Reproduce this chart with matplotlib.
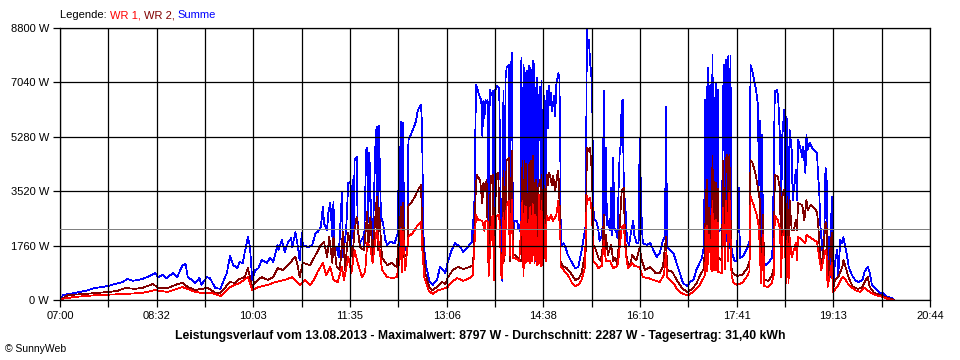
import matplotlib.pyplot as plt

# Minutes after 07:00 and power in W
summe = [
    (1, 65), (3, 160), (14, 230), (27, 320), (33, 390), (40, 420), (45, 450), (59, 580), (64, 680),
    (69, 620), (78, 680), (87, 810), (90, 870), (93, 740), (97, 810), (101, 710), (107, 870), (111, 740),
    (116, 1130), (119, 1160), (121, 740), (125, 650), (128, 550), (132, 710), (134, 490), (139, 740),
    (142, 710), (147, 390), (152, 360), (154, 550), (158, 870), (161, 1420), (164, 1130), (168, 1030),
    (170, 1230), (173, 1200), (175, 1550), (178, 2040), (180, 1710), (182, 650), (185, 970), (188, 1030),
    (191, 1290), (196, 1200), (199, 1360), (202, 1230), (206, 1780), (207, 1620), (210, 1940), (213, 1550),
    (216, 1880), (219, 2000), (220, 1710), (223, 2200), (225, 1780), (227, 1290), (229, 2170), (230, 1780),
    (235, 1710), (239, 1780), (242, 2170), (244, 2200), (247, 2360), (249, 3010), (250, 2490), (253, 2260),
    (254, 2810), (256, 3140), (258, 2040), (259, 3170), (260, 1620), (262, 1710), (264, 1390), (267, 3460),
    (268, 1390), (271, 2260), (273, 3790), (275, 3820), (276, 1520), (277, 3880), (278, 1710), (279, 4530),
    (281, 4630), (282, 2260), (284, 1840), (287, 2040), (288, 1780), (290, 4850), (291, 4920), (292, 2520),
    (293, 4760), (295, 2260), (295, 1390), (296, 1620), (299, 5340), (300, 5600), (301, 1620), (302, 5630),
    (304, 2680), (306, 2490), (308, 1940), (310, 1780), (313, 1880), (317, 1840), (320, 2170), (321, 4950),
    (322, 1460), (323, 5760), (324, 1620), (325, 5730), (326, 1520), (327, 1710), (329, 1520), (330, 5180),
    (331, 5240), (334, 5500), (337, 5760), (339, 6150), (342, 6310), (343, 5500), (344, 2260), (345, 1620),
    (347, 1070), (350, 580), (353, 490), (357, 650), (360, 1070), (363, 970), (365, 870), (367, 1200),
    (371, 1620), (374, 1840), (379, 1720), (382, 1550), (386, 1700), (390, 1880), (391, 2590), (392, 2000),
    (394, 6960), (395, 6860), (397, 6630), (399, 6470), (400, 5310), (401, 6440), (402, 5890), (403, 6470),
    (404, 6370), (405, 6470), (406, 1360), (407, 6790), (409, 6630), (410, 6760), (411, 810), (412, 6790),
    (414, 6920), (416, 6860), (418, 1460), (419, 620), (420, 6760), (421, 1780), (422, 7180), (423, 7510),
    (425, 7600), (426, 1360), (427, 7410), (428, 7990), (429, 1910), (430, 2560), (433, 2560), (434, 2330),
    (436, 2230), (437, 7830), (438, 1360), (439, 7600), (439, 810), (440, 7510), (441, 1500), (441.5, 7300),
    (442, 7410), (443, 1460), (444, 7570), (445, 1600), (445.5, 7500), (446, 7410), (447, 1900),
    (447.5, 7600), (448, 7730), (449, 7600), (449.5, 1700), (450, 6860), (450.5, 6800), (451, 1260),
    (452, 7180), (452.5, 1400), (453, 4500), (454, 6630), (455, 6900), (455.5, 1300), (456, 1130),
    (456, 7080), (457, 1260), (458, 1500), (458.5, 6600), (459, 6440), (460, 1360), (461, 6760), (462, 5560),
    (463, 6920), (464, 6310), (465, 6700), (466, 6110), (468, 6600), (469, 5950), (470, 6960), (472, 7340),
    (473, 7180), (474, 4270), (474, 2750), (475, 1780), (477, 1840), (479, 1680), (481, 1460), (485, 1200),
    (488, 1030), (491, 1070), (492, 1260), (494, 1590), (496, 2000), (498, 2430), (499, 8797), (500, 8150),
    (501, 8410), (502, 7730), (504, 6960), (505, 3070), (506, 2590), (508, 2560), (510, 2230), (511, 1910),
    (513, 2070), (514, 2430), (515, 6760), (516, 2750), (517, 4920), (518, 2430), (519, 2560), (521, 2260),
    (522, 3620), (523, 2100), (524, 4590), (525, 2330), (527, 2170), (528, 2000), (529, 3530), (530, 4690),
    (531, 5010), (532, 6440), (533, 6470), (534, 3620), (536, 2750), (537, 1910), (539, 1780), (541, 2230),
    (543, 2560), (544, 2100), (546, 1840), (548, 1840), (549, 5240), (551, 2490), (552, 1840), (556, 1780),
    (559, 1840), (562, 1620), (565, 1390), (568, 1520), (571, 1940), (573, 2040), (574, 6240), (575, 1710),
    (578, 1620), (581, 1520), (584, 1200), (587, 870), (590, 550), (594, 450), (597, 600), (600, 650),
    (603, 1000), (608, 1360), (610, 1780), (611, 6470), (612, 1900), (612.5, 6900), (613, 2330), (614, 7510),
    (615, 2560), (616, 6960), (617, 2330), (618, 7930), (618, 2430), (619, 7200), (619.5, 2100), (620, 2260),
    (621, 7000), (621.5, 2300), (622, 2560), (623, 6800), (623.5, 2200), (624, 2230), (627, 2330),
    (628, 6630), (629, 7600), (630, 1800), (630.5, 7700), (631, 7760), (632, 1910), (633, 7890), (634, 1680),
    (635, 7890), (636, 1680), (637, 1460), (639, 1260), (641, 1260), (643, 3620), (644, 1360), (647, 1420),
    (651, 1680), (653, 1910), (654, 7600), (655, 7510), (657, 7180), (659, 6860), (661, 6310), (662, 3720),
    (663, 5790), (664, 1460), (665, 5340), (666, 1260), (668, 1130), (671, 1200), (674, 1360), (675, 1680),
    (677, 6760), (679, 6790), (680, 6630), (681, 5990), (682, 5080), (683, 2680), (684, 5270), (686, 6150),
    (687, 1390), (688, 5920), (689, 5600), (690, 1390), (691, 5500), (693, 4850), (694, 3230), (695, 3560),
    (697, 4210), (698, 3230), (699, 5180), (701, 4950), (703, 4630), (704, 4950), (706, 4110), (707, 5340),
    (708, 4850), (710, 5080), (712, 4950), (714, 4850), (717, 4760), (718, 3980), (719, 3660), (720, 2490),
    (722, 1620), (724, 2260), (725, 4270), (726, 4140), (727, 970), (728, 2040), (729, 740), (731, 3330),
    (732, 420), (734, 1200), (736, 1620), (737, 740), (739, 1940), (741, 1840), (742, 2040), (743, 1840),
    (745, 1520), (747, 1070), (750, 810), (753, 650), (756, 580), (760, 650), (762, 910), (765, 1070),
    (767, 870), (769, 490), (771, 420), (774, 320), (777, 230), (779, 230), (783, 100), (788, 65), (790, 0),
]

wr2 = [
    (1, 30), (8, 160), (21, 190), (36, 230), (45, 260), (54, 290), (62, 390), (71, 360), (78, 390),
    (88, 520), (93, 390), (102, 390), (112, 520), (116, 550), (121, 420), (128, 320), (134, 360), (140, 390),
    (147, 230), (152, 230), (156, 390), (161, 580), (166, 550), (170, 680), (175, 740), (178, 1030),
    (182, 420), (185, 580), (191, 740), (197, 650), (202, 740), (206, 1030), (211, 970), (216, 1130),
    (220, 1290), (223, 1390), (225, 1130), (227, 740), (230, 1200), (237, 1130), (241, 1390), (243, 1520),
    (247, 1780), (250, 1880), (253, 1390), (255, 2040), (258, 1200), (259, 2040), (262, 1070), (265, 970),
    (268, 2200), (270, 970), (273, 2170), (277, 1390), (279, 2260), (281, 2680), (284, 1710), (288, 1620),
    (291, 2850), (292, 1710), (294, 2680), (296, 1390), (300, 3330), (301, 1620), (302, 2980), (305, 1360),
    (310, 1130), (314, 1200), (319, 1070), (321, 2040), (323, 3010), (324, 1390), (325, 3140), (326, 1390),
    (329, 1520), (330, 3070), (333, 3170), (336, 3330), (339, 3560), (342, 3720), (343, 2260), (344, 1710),
    (346, 870), (350, 390), (353, 320), (357, 420), (362, 580), (365, 520), (367, 710), (372, 970),
    (377, 1070), (382, 1000), (388, 1070), (391, 1130), (392, 1620), (394, 3780), (395, 4040), (398, 3850),
    (400, 3140), (401, 3780), (403, 3530), (404, 3880), (406, 810), (408, 4010), (410, 4040), (411, 710),
    (413, 4040), (415, 4110), (418, 810), (419, 780), (420, 4170), (421, 1260), (423, 4530), (425, 4590),
    (426, 1260), (428, 4820), (429, 1460), (431, 1460), (434, 1360), (437, 1260), (438, 4500), (439, 810),
    (440, 4500), (441, 1300), (441.5, 4400), (443, 1260), (444, 4370), (445, 1250), (445.5, 4450),
    (446, 4500), (447, 1400), (447.5, 4600), (448, 4660), (449.5, 1300), (450, 3720), (450.5, 3900),
    (452, 1130), (452.5, 1200), (453, 3620), (455, 3900), (455.5, 1150), (455, 1260), (456, 4040),
    (457, 1130), (458, 1300), (458.5, 3700), (459, 3620), (460, 1260), (461, 4040), (462, 3720), (463, 4110),
    (464, 4040), (466, 3720), (467, 4010), (469, 3530), (471, 4040), (472, 4170), (474, 2330), (474, 1260),
    (476, 1100), (480, 1030), (485, 810), (488, 650), (491, 680), (494, 870), (496, 1260), (498, 1590),
    (499, 4920), (500, 4820), (502, 4920), (504, 4040), (505, 1780), (507, 1680), (510, 1360), (512, 1260),
    (514, 1680), (515, 2750), (516, 1460), (517, 2100), (519, 1460), (522, 1780), (524, 1260), (526, 1360),
    (528, 1130), (530, 2330), (532, 3530), (534, 3620), (535, 2100), (537, 1260), (540, 1130), (542, 1460),
    (544, 1360), (546, 1290), (549, 1710), (551, 1290), (554, 970), (559, 1070), (564, 870), (568, 870),
    (571, 1070), (574, 2040), (575, 970), (580, 910), (584, 650), (589, 390), (594, 260), (599, 360),
    (603, 550), (606, 780), (610, 1030), (612, 3300), (612.5, 3900), (613, 1360), (615, 2980), (617, 1260),
    (618, 4660), (618, 1360), (619, 4200), (619.5, 1300), (621, 3800), (621.5, 1300), (623, 3600),
    (623.5, 1250), (624, 1360), (627, 1260), (628, 4500), (630, 1300), (630.5, 4600), (631, 4590),
    (632, 4690), (633, 1680), (634, 4690), (636, 1030), (637, 870), (641, 780), (646, 810), (651, 1030),
    (653, 1260), (654, 4530), (656, 4430), (659, 4040), (661, 3620), (663, 3200), (664, 810), (666, 2750),
    (667, 650), (671, 620), (674, 780), (676, 1030), (677, 4040), (679, 4010), (680, 3980), (682, 3560),
    (683, 870), (684, 3330), (686, 3560), (688, 650), (689, 3330), (690, 650), (691, 3230), (693, 2260),
    (695, 2260), (697, 2590), (698, 2260), (699, 3140), (703, 3070), (705, 2590), (707, 3230), (708, 2910),
    (711, 3070), (714, 2980), (717, 2850), (718, 2490), (720, 1390), (722, 1200), (725, 2520), (726, 2490),
    (727, 550), (729, 1390), (731, 2170), (732, 320), (734, 650), (737, 740), (741, 1070), (742, 1290),
    (744, 1070), (747, 710), (751, 420), (756, 360), (760, 420), (763, 650), (765, 740), (767, 420),
    (771, 230), (777, 160), (781, 100), (788, 30), (790, 0),
]

wr1 = [
    (1, 30), (14, 100), (36, 160), (59, 190), (78, 230), (90, 320), (102, 260), (116, 420), (128, 260),
    (134, 230), (144, 230), (152, 130), (161, 420), (170, 550), (178, 740), (182, 320), (188, 420),
    (197, 490), (204, 580), (213, 650), (220, 740), (227, 490), (232, 650), (237, 490), (241, 680),
    (244, 910), (249, 1200), (252, 810), (256, 1070), (259, 650), (263, 580), (267, 1070), (269, 650),
    (273, 1390), (276, 870), (279, 1620), (282, 1200), (286, 740), (289, 910), (291, 1840), (294, 1710),
    (296, 1200), (300, 2260), (302, 1840), (305, 970), (310, 740), (315, 710), (319, 740), (322, 1390),
    (323, 2300), (324, 900), (325, 2200), (327, 970), (330, 2040), (334, 2170), (339, 2430), (342, 2520),
    (343, 1710), (345, 740), (349, 320), (353, 190), (358, 320), (363, 360), (367, 420), (371, 580),
    (376, 710), (382, 620), (388, 710), (391, 810), (394, 2750), (396, 2590), (400, 2560), (402, 2230),
    (403, 2560), (405, 2560), (406, 780), (409, 2650), (410, 2720), (411, 650), (413, 2720), (416, 2750),
    (418, 810), (419, 710), (420, 2810), (421, 1360), (423, 3070), (425, 3200), (426, 1460), (428, 3230),
    (429, 1360), (431, 1360), (435, 1260), (438, 3200), (439, 780), (440, 3040), (441, 1200), (441.5, 3000),
    (443, 1260), (445, 2980), (445, 1200), (445.5, 3000), (447, 1250), (447.5, 3100), (448, 3070),
    (449.5, 1200), (450, 2750), (450.5, 2700), (452, 1130), (452.5, 1150), (454, 3400), (455, 1130),
    (455, 2800), (455.5, 1100), (456, 3200), (457, 1130), (458, 1200), (458.5, 2600), (459, 2430),
    (460, 1260), (461, 2720), (463, 2590), (465, 2750), (467, 2560), (470, 2750), (472, 3200), (474, 1910),
    (474, 1100), (477, 970), (481, 810), (485, 550), (488, 450), (491, 490), (494, 650), (497, 1030),
    (499, 3360), (500, 3230), (502, 3300), (504, 2750), (505, 1260), (507, 1200), (510, 1030), (513, 1100),
    (515, 1910), (517, 1260), (521, 1260), (524, 1030), (528, 1100), (529, 1360), (532, 2330), (534, 2430),
    (536, 1460), (538, 1030), (542, 1200), (544, 1100), (549, 1070), (552, 740), (557, 710), (562, 650),
    (568, 580), (572, 810), (574, 1520), (575, 740), (581, 550), (585, 320), (590, 190), (595, 160),
    (600, 260), (604, 420), (606, 490), (611, 810), (612, 2330), (612.5, 2400), (613, 940), (615, 2100),
    (617, 940), (618, 3200), (618, 940), (619, 2800), (619.5, 950), (621, 2600), (621.5, 950), (623, 2500),
    (623.5, 900), (627, 870), (628, 2980), (630, 1000), (630.5, 3100), (631, 3200), (633, 1260), (634, 3530),
    (636, 810), (638, 550), (641, 490), (646, 550), (651, 780), (653, 940), (654, 3360), (657, 3070),
    (660, 2750), (662, 2330), (664, 550), (666, 2100), (667, 450), (671, 420), (674, 550), (676, 810),
    (677, 2720), (680, 2590), (682, 2260), (683, 740), (684, 2040), (686, 2260), (688, 550), (689, 2040),
    (690, 550), (691, 2040), (693, 1390), (697, 1840), (698, 1290), (699, 2040), (703, 1940), (706, 1840),
    (707, 2100), (710, 2040), (714, 1940), (717, 1880), (718, 1620), (721, 970), (725, 1620), (726, 1520),
    (727, 420), (731, 1200), (732, 260), (736, 420), (741, 740), (743, 710), (747, 490), (753, 320),
    (758, 260), (762, 390), (767, 260), (772, 160), (779, 100), (784, 30), (789, 0),
]

y_ticks = [0, 1760, 3520, 5280, 7040, 8800]
x_labels = ['07:00', '08:32', '10:03', '11:35', '13:06', '14:38', '16:10', '17:41', '19:13', '20:44']
durchschnitt = 2287
title = ("Leistungsverlauf vom 13.08.2013 - Maximalwert: 8797 W - "
         "Durchschnitt: 2287 W - Tagesertrag: 31,40 kWh")

plt.rcParams['font.family'] = ['Liberation Sans', 'DejaVu Sans']

fig = plt.figure(figsize=(9.6, 3.6), dpi=100, facecolor='white')
ax = fig.add_axes([60 / 960, 60 / 360, 870 / 960, 272 / 360])

# thin, not smoothed, like the original screen graphic
for data, color in ((summe, '#0000ff'), (wr2, '#800000'), (wr1, '#ff0000')):
    t, w = zip(*sorted(data, key=lambda p: p[0]))
    ax.plot(t, w, color=color, lw=0.55, antialiased=False, zorder=2)

ax.axhline(durchschnitt, color='#808080', lw=0.72, antialiased=False, zorder=4)

day_len = 824
ax.set_xlim(0, day_len)
ax.set_ylim(0, 8800)
grid_x = [k * day_len / 18 for k in range(19)]
ax.set_xticks(grid_x)
ax.set_xticklabels([x_labels[k // 2] if k % 2 == 0 else '' for k in range(19)], fontsize=8)
ax.set_yticks(y_ticks)
ax.set_yticklabels([f'{v} W' for v in y_ticks], fontsize=8)
ax.tick_params(direction='out', length=5, width=0.9, color='black', pad=3)
ax.grid(True, color='black', lw=0.9, zorder=3)
ax.set_axisbelow(False)
for s in ax.spines.values():
    s.set_color('black')
    s.set_linewidth(0.9)

fig.text(0.5, 1 - 336 / 360, title, ha='center', va='center', fontsize=8.8, fontweight='bold')
fig.text(5 / 960, 1 - 349 / 360, '\u00a9 SunnyWeb', ha='left', va='center', fontsize=7.5)

# Legend line made of coloured pieces
fig.canvas.draw()
renderer = fig.canvas.get_renderer()
x = 60 / 960
for part, color in (('Legende: ', 'black'), ('WR 1, ', '#ff0000'),
                    ('WR 2, ', '#800000'), ('Summe', '#0000ff')):
    txt = fig.text(x, 1 - 15 / 360, part, color=color, fontsize=8, ha='left', va='center')
    bb = txt.get_window_extent(renderer)
    x += bb.width / fig.bbox.width

fig.savefig('out.png', dpi=100, facecolor='white')
